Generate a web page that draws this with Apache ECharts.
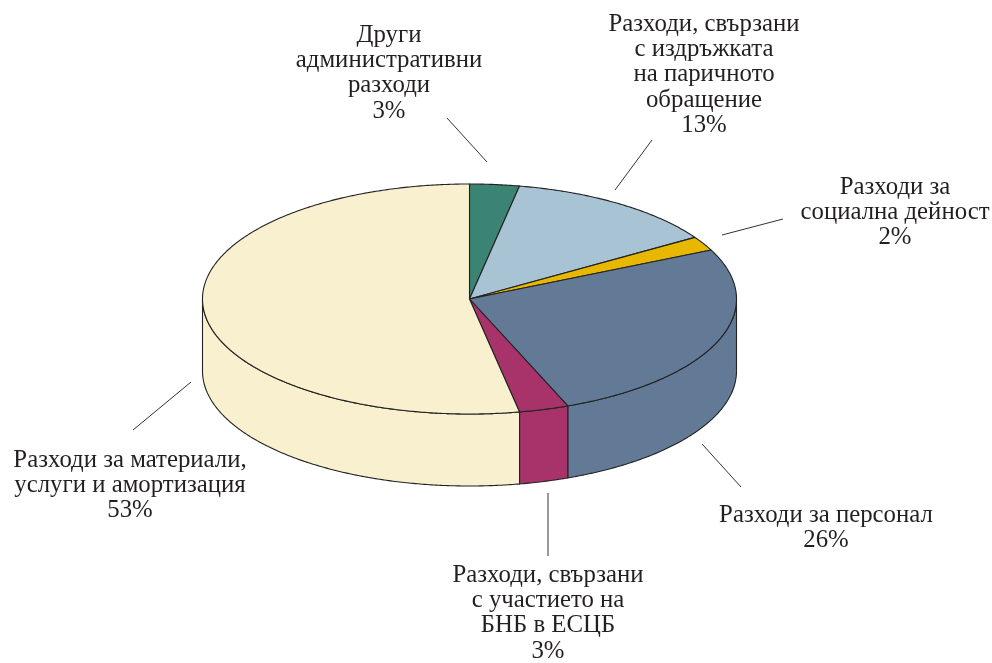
<!DOCTYPE html>
<html>
<head>
<meta charset="utf-8">
<script src="https://cdn.jsdelivr.net/npm/echarts@6/dist/echarts.min.js"></script>
<style>
html,body{margin:0;padding:0;background:#fff;}
#main{width:992px;height:663px;}
</style>
</head>
<body>
<div id="main"></div>
<script>
// ---- data ----
const categories = [
  'Други\nадминистративни\nразходи',
  'Разходи, свързани\nс издръжката\nна паричното\nобращение',
  'Разходи за\nсоциална дейност',
  'Разходи за персонал',
  'Разходи, свързани\nс участието на\nБНБ в ЕСЦБ',
  'Разходи за материали,\nуслуги и амортизация'
];
const values = [3, 13, 2, 26, 3, 53];
const colors = ['#3b8373', '#a8c4d4', '#e8b800', '#637a96', '#a8336b', '#f8f0cf'];

// ---- layout (not data) ----
const CX = 469.5, CY = 299, RX = 267, RY = 115, DEPTH = 72;
const FONT = '24.8px "Liberation Serif", "Times New Roman", serif';
const LINE_H = 25.3;
const labelLayout = [
  { x: 389, y: 22.5, line: [[447, 118], [487, 162]] },
  { x: 704, y: 11.5, line: [[652, 140], [615, 190]] },
  { x: 895, y: 174.5, line: [[783, 219], [722, 235]] },
  { x: 826, y: 502.5, line: [[702, 444], [741, 487]] },
  { x: 548, y: 562.5, line: [[548, 493], [548, 556]] },
  { x: 130, y: 447.5, line: [[191, 382], [133, 430]] }
];

const total = values.reduce((a, b) => a + b, 0);
const starts = [];
values.reduce((acc, v, i) => { starts[i] = acc; return acc + v; }, 0);

function pt(t, dy) {
  return [CX + RX * Math.sin(t), CY - RY * Math.cos(t) + dy];
}
function arc(t1, t2, dy) {
  const pts = [];
  const n = Math.max(2, Math.ceil(Math.abs(t2 - t1) / (Math.PI / 360)));
  for (let k = 0; k <= n; k++) pts.push(pt(t1 + (t2 - t1) * k / n, dy));
  return pts;
}
function angles(i, v) {
  const t1 = starts[i] / total * Math.PI * 2;
  const t2 = (starts[i] + v) / total * Math.PI * 2;
  return [t1, t2];
}
const strokeStyle = { stroke: '#222', lineWidth: 1.1, lineJoin: 'round' };

function renderSide(params, api) {
  const i = params.dataIndex;
  const v = api.value(0);
  const [t1, t2] = angles(i, v);
  const a = Math.max(t1, Math.PI / 2), b = Math.min(t2, Math.PI * 1.5);
  if (b <= a) return null;
  const top = arc(a, b, 0);
  const bot = arc(b, a, DEPTH);
  return {
    type: 'polygon',
    shape: { points: top.concat(bot) },
    style: Object.assign({ fill: colors[i] }, strokeStyle)
  };
}

function renderTop(params, api) {
  const i = params.dataIndex;
  const v = api.value(0);
  const [t1, t2] = angles(i, v);
  const L = labelLayout[i];
  return {
    type: 'group',
    children: [
      {
        type: 'polygon',
        shape: { points: [[CX, CY]].concat(arc(t1, t2, 0)) },
        style: Object.assign({ fill: colors[i] }, strokeStyle)
      },
      {
        type: 'line',
        shape: { x1: L.line[0][0], y1: L.line[0][1], x2: L.line[1][0], y2: L.line[1][1] },
        style: { stroke: '#333', lineWidth: 1 }
      },
      {
        type: 'text',
        style: {
          text: categories[i] + '\n' + Math.round(v / total * 100) + '%',
          x: L.x, y: L.y,
          font: FONT,
          fill: '#231f20',
          align: 'center',
          verticalAlign: 'top',
          lineHeight: LINE_H
        }
      }
    ]
  };
}

const seriesData = values.map((v, i) => ({ name: categories[i], value: [v] }));

const chart = echarts.init(document.getElementById('main'), null, { renderer: 'canvas' });
chart.setOption({
  backgroundColor: '#ffffff',
  animation: false,
  series: [
    { type: 'custom', coordinateSystem: 'none', z: 1, silent: true, data: seriesData, renderItem: renderSide },
    { type: 'custom', coordinateSystem: 'none', z: 2, silent: true, data: seriesData, renderItem: renderTop }
  ]
});
</script>
</body>
</html>
